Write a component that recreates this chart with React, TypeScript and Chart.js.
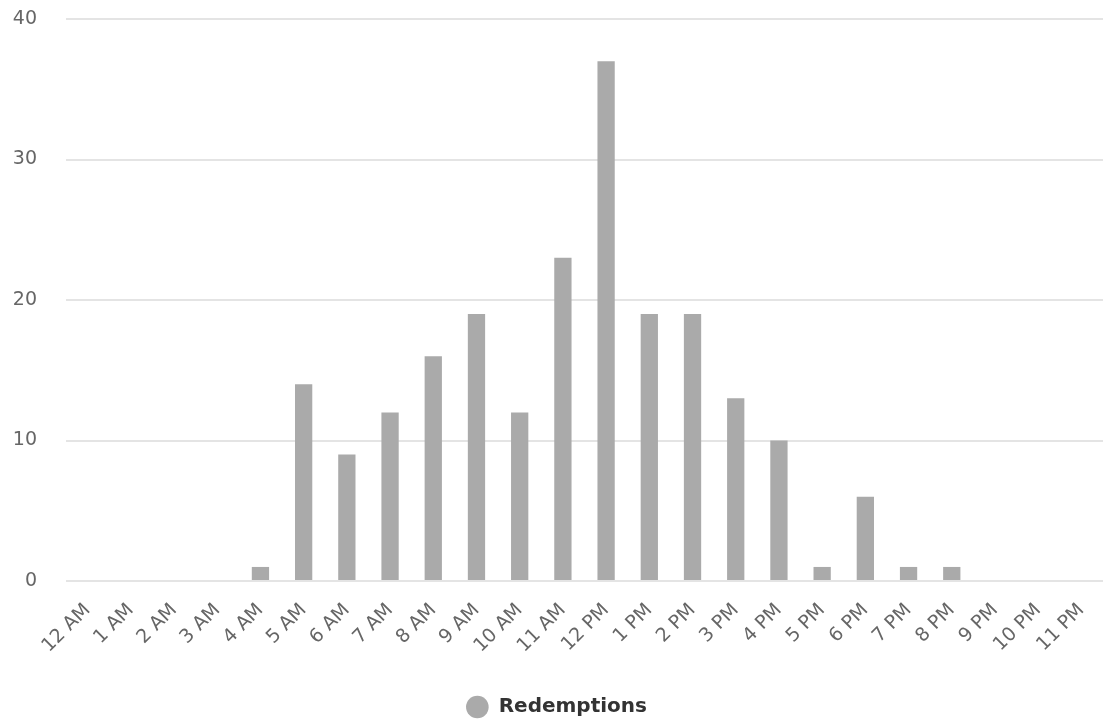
import React, { useEffect, useRef } from "react";
import { Chart, registerables } from "chart.js";

Chart.register(...registerables);

// Redemptions per hour of day
const hours: string[] = [
  "12 AM", "1 AM", "2 AM", "3 AM", "4 AM", "5 AM", "6 AM", "7 AM",
  "8 AM", "9 AM", "10 AM", "11 AM", "12 PM", "1 PM", "2 PM", "3 PM",
  "4 PM", "5 PM", "6 PM", "7 PM", "8 PM", "9 PM", "10 PM", "11 PM",
];
const redemptions: number[] = [
  0, 0, 0, 0, 1, 14, 9, 12, 16, 19, 12, 23, 37, 19, 19, 13, 10, 1, 6, 1, 1, 0, 0, 0,
];
const yTicks: number[] = [0, 10, 20, 30, 40];

const FONT = "'DejaVu Sans', sans-serif";
const BAR_GREY = "#aaaaaa";
const PAD_LEFT = 10;
const LEGEND_DOT = 16;

export default function App() {
  const canvasRef = useRef<HTMLCanvasElement | null>(null);

  useEffect(() => {
    document.body.style.margin = "0";
    const canvas = canvasRef.current;
    if (!canvas) return;
    const chart = new Chart(canvas, {
      type: "bar",
      data: {
        labels: hours,
        datasets: [
          {
            label: "Redemptions",
            data: redemptions,
            backgroundColor: BAR_GREY,
            borderWidth: 0,
            barPercentage: 0.4,
            categoryPercentage: 1,
          },
        ],
      },
      options: {
        responsive: false,
        animation: false,
        layout: { padding: { top: 19, left: PAD_LEFT, right: 0, bottom: -2 } },
        plugins: {
          tooltip: { enabled: false },
          legend: {
            position: "bottom",
            labels: {
              usePointStyle: true,
              pointStyle: "circle",
              boxHeight: LEGEND_DOT,
              // a round dot: ellipse width equal to its height
              pointStyleWidth: LEGEND_DOT * Math.SQRT2,
              color: "#333333",
              padding: 7,
              font: { family: FONT, size: 20, weight: "bold" },
            },
          },
        },
        scales: {
          x: {
            grid: {
              display: false,
              drawTicks: true,
              tickLength: 18,
              tickColor: "rgba(0,0,0,0)",
            },
            border: { display: false },
            ticks: {
              color: "#666666",
              font: { family: FONT, size: 19 },
              minRotation: 45,
              maxRotation: 45,
              padding: 0,
              autoSkip: false,
            },
            afterFit: (scale: any) => {
              scale.height = 109;
            },
          },
          y: {
            min: 0,
            max: 40,
            afterBuildTicks: (scale: any) => {
              scale.ticks = yTicks.map((v) => ({ value: v }));
            },
            grid: {
              color: "#e4e4e4",
              lineWidth: 2,
              drawTicks: true,
              tickLength: 29,
              tickColor: "rgba(0,0,0,0)",
            },
            border: { display: false },
            ticks: {
              color: "#666666",
              font: { family: FONT, size: 19 },
              padding: 0,
            },
            afterFit: (scale: any) => {
              scale.width = 66 - PAD_LEFT;
            },
          },
        },
      },
    });
    return () => chart.destroy();
  }, []);

  return (
    <div style={{ width: 1103, height: 725, background: "#ffffff" }}>
      <canvas ref={canvasRef} width={1103} height={725} />
    </div>
  );
}
